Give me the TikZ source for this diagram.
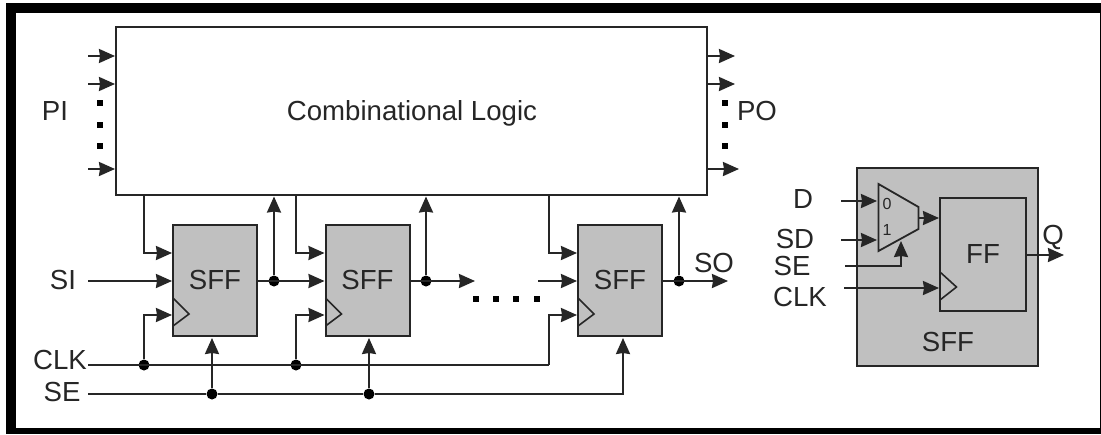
\documentclass[tikz,border=0pt]{standalone}
\usepackage{fontspec}
\setmainfont{Liberation Sans}
\usetikzlibrary{arrows.meta}
\definecolor{boxgray}{HTML}{C0C0C0}
\definecolor{inkc}{HTML}{262626}
\tikzset{
  x=1pt,y=-1pt,
  wire/.style={draw=inkc,line width=2.2pt,line join=miter},
  arr/.style={wire,-{Stealth[length=16pt,width=14pt,inset=1pt]}},
  sffbox/.style={draw=inkc,fill=boxgray,line width=2pt,minimum width=84pt,minimum height=111pt,inner sep=0pt},
  lbl/.style={font=\fontsize{27.6}{28}\selectfont,text=inkc,inner sep=0pt},
  smalllbl/.style={font=\fontsize{16}{16}\selectfont,text=inkc,inner sep=0pt},
  jdot/.style={circle,fill=black,minimum size=11pt,inner sep=0pt},
  sq/.style={rectangle,fill=black,minimum size=6pt,inner sep=0pt},
  clkmark/.style={draw=inkc,line width=1.6pt,line join=miter},
}
\begin{document}
\begin{tikzpicture}
\useasboundingbox (0,0) rectangle (1101,434);
\fill[white] (0,0) rectangle (1101,434);
\fill[black] (6,3) rectangle (1101,434);
\fill[white] (15.5,12.5) rectangle (1099.5,428);

% main blocks
\node[draw=inkc,fill=white,line width=2pt,minimum width=591pt,minimum height=168pt,inner sep=0pt] (logic) at (411.5,111) {};
\node[lbl] (logictext) at (412,113.5) {Combinational Logic};
\node[sffbox] (sffa) at (215,280.5) {};
\node[sffbox] (sffb) at (367.5,280.5) {};
\node[sffbox] (sffc) at (620,280.5) {};
\node[lbl] (sffatext) at (215,280) {SFF};
\node[lbl] (sffbtext) at (367.5,280) {SFF};
\node[lbl] (sffctext) at (620,280) {SFF};

% clock marks
\draw[clkmark] (173,298) -- (189,314) -- (173,326);
\draw[clkmark] (325.5,298) -- (341.5,314) -- (325.5,326);
\draw[clkmark] (578,298) -- (594,314) -- (578,326);

% labels left
\node[lbl] (pi) at (55,111) {PI};
\node[lbl] (po) at (757,111) {PO};
\node[lbl] (si) at (63,280) {SI};
\node[lbl] (clk) at (60,360) {CLK};
\node[lbl] (se) at (62,392) {SE};
\node[lbl] (so) at (714,263) {SO};

% PI / PO arrows
\coordinate (pia) at (88,56); \coordinate (piae) at (115,56);
\coordinate (pib) at (88,84); \coordinate (pibe) at (115,84);
\coordinate (pic) at (88,169); \coordinate (pice) at (115,169);
\coordinate (poa) at (707,56); \coordinate (poae) at (735,56);
\coordinate (pob) at (707,84); \coordinate (pobe) at (735,84);
\coordinate (poc) at (707,169); \coordinate (poce) at (739,169);
\draw[arr] (pia) -- (piae);
\draw[arr] (pib) -- (pibe);
\draw[arr] (pic) -- (pice);
\draw[arr] (poa) -- (poae);
\draw[arr] (pob) -- (pobe);
\draw[arr] (poc) -- (poce);
\foreach \n/\yy in {a/103,b/125,c/146}{
  \node[sq] (pid\n) at (100,\yy) {};
  \node[sq] (pod\n) at (725,\yy) {};
}
\foreach \n/\xx in {a/476,b/496,c/516,d/537}{
  \node[sq] (hd\n) at (\xx,299) {};
}

% rails and junctions
\coordinate (clkstart) at (88,365);
\coordinate (sestart) at (88,394);
\coordinate (sistart) at (88,281);
\node[jdot] (ja) at (144,365) {};
\node[jdot] (jb) at (296,365) {};
\node[jdot] (ka) at (212,394) {};
\node[jdot] (kb) at (369,394) {};
\node[jdot] (oa) at (274,281) {};
\node[jdot] (ob) at (426,281) {};
\node[jdot] (oc) at (679,281) {};

% logic -> SFF
\coordinate (ta) at (144,195); \coordinate (tap) at (172,253);
\coordinate (tb) at (296,195); \coordinate (tbp) at (324.5,253);
\coordinate (tc) at (549,195); \coordinate (tcp) at (577,253);
\draw[arr] (ta) |- (tap);
\draw[arr] (tb) |- (tbp);
\draw[arr] (tc) |- (tcp);

% scan chain
\coordinate (sap) at (172,281); \coordinate (sbp) at (324.5,281);
\coordinate (scp) at (577,281); \coordinate (aout) at (257,281);
\coordinate (bout) at (410,281); \coordinate (cout) at (662,281);
\coordinate (bend) at (475,281); \coordinate (cstart) at (538,281);
\coordinate (soend) at (728,281);
\draw[arr] (sistart) -- (sap);
\draw[arr] (aout) -- (sbp);
\draw[arr] (bout) -- (bend);
\draw[arr] (cstart) -- (scp);
\draw[arr] (cout) -- (soend);

% feedback to logic
\coordinate (ua) at (274,196.5); \coordinate (ub) at (426,196.5); \coordinate (uc) at (679,196.5);
\draw[arr] (oa) -- (ua);
\draw[arr] (ob) -- (ub);
\draw[arr] (oc) -- (uc);

% CLK
\coordinate (cap) at (172,315); \coordinate (cbp) at (324.5,315); \coordinate (ccp) at (577,315);
\coordinate (clkcorner) at (549,365);
\draw[wire] (clkstart) -- (clkcorner);
\draw[arr] (clkcorner) |- (ccp);
\draw[arr] (ja) |- (cap);
\draw[arr] (jb) |- (cbp);

% SE
\coordinate (sea) at (212,338); \coordinate (seb) at (369,338); \coordinate (sec) at (623,338);
\draw[wire] (sestart) -- (ka) -- (kb);
\draw[arr] (kb) -| (sec);
\draw[arr] (ka) -- (sea);
\draw[arr] (kb) -- (seb);

% detail block
\node[draw=inkc,fill=boxgray,line width=2pt,minimum width=181pt,minimum height=198pt,inner sep=0pt] (detail) at (947.5,267) {};
\node[draw=inkc,fill=boxgray,line width=2pt,minimum width=86pt,minimum height=113pt,inner sep=0pt] (ff) at (983,254.5) {};
\node[lbl] (fftext) at (983,254) {FF};
\node[lbl] (detailtext) at (948,342) {SFF};
\draw[clkmark] (940,272) -- (956.5,287) -- (940,300);
\draw[draw=inkc,line width=1.8pt,line join=miter,fill=boxgray] (878.5,184) -- (918.5,207) -- (918.5,229) -- (878.5,251) -- cycle;
\node[smalllbl] (mux0) at (887,204) {0};
\node[smalllbl] (mux1) at (887,230) {1};
\node[lbl] (dl) at (803,199) {D};
\node[lbl] (sdl) at (795,239) {SD};
\node[lbl] (sel) at (792,266) {SE};
\node[lbl] (clkl) at (800,297) {CLK};
\node[lbl] (ql) at (1053,237) {Q};
\coordinate (ds) at (841,201); \coordinate (de) at (877,201);
\coordinate (sds) at (841,240); \coordinate (sde) at (877,240);
\coordinate (ses) at (845,266); \coordinate (see) at (901,241);
\coordinate (cks) at (844,288); \coordinate (cke) at (939,288);
\coordinate (ms) at (918.5,218); \coordinate (me) at (939,218);
\coordinate (qs) at (1026,255); \coordinate (qe) at (1064,255);
\draw[arr] (ds) -- (de);
\draw[arr] (sds) -- (sde);
\draw[arr] (ses) -| (see);
\draw[arr] (cks) -- (cke);
\draw[arr] (ms) -- (me);
\draw[arr] (qs) -- (qe);
\end{tikzpicture}
\end{document}
